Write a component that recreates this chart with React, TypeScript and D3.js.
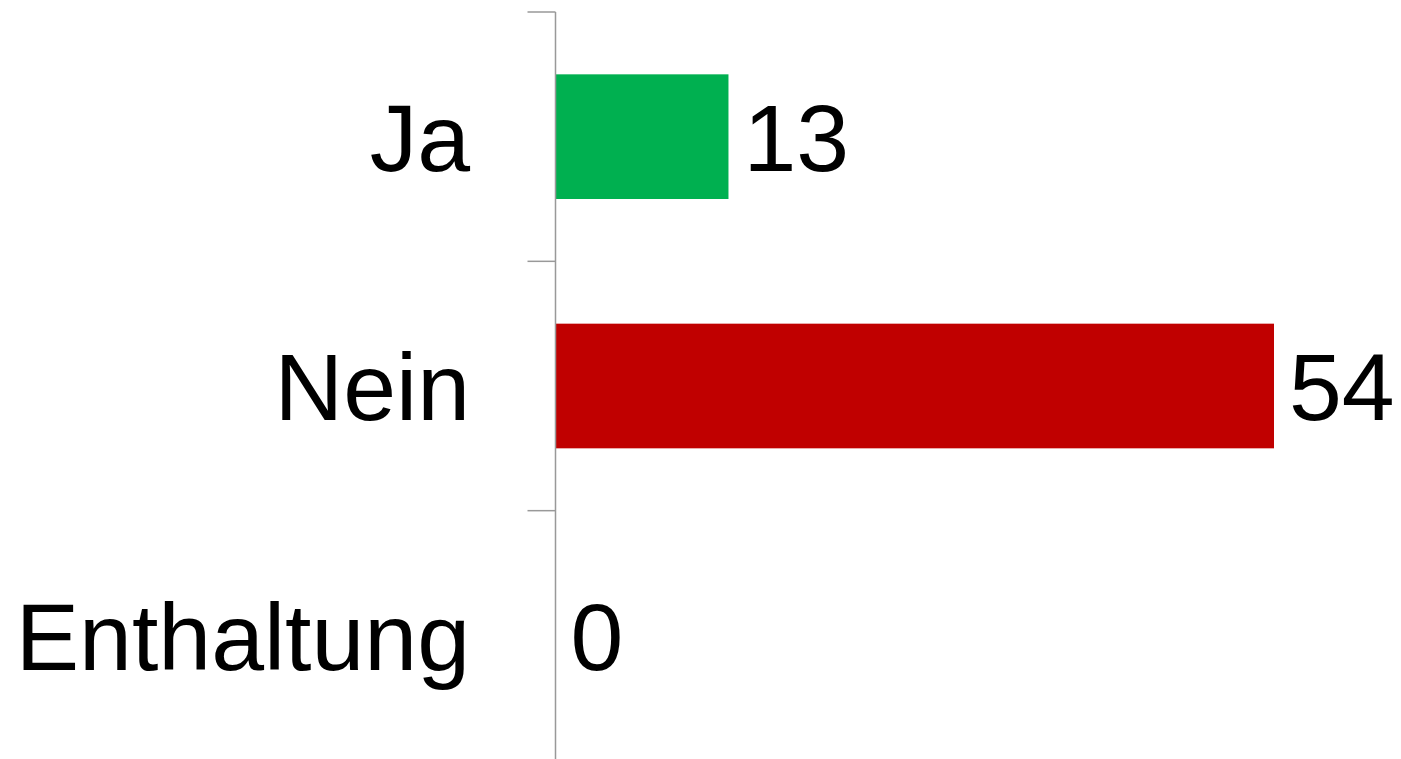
import React, { useEffect, useRef } from "react";
import * as d3 from "d3";

const categories = ["Ja", "Nein", "Enthaltung"];
const votes = [13, 54, 0];
const barColors = ["#00B050", "#C00000", "#7F7F7F"];

const width = 1401;
const height = 759;
const axisX = 555.5;
const top = 12;
const bottom = 760;

const App = () => {
  const ref = useRef<SVGSVGElement>(null);

  useEffect(() => {
    const svg = d3.select(ref.current);
    svg.selectAll("*").remove();

    const y = d3.scaleBand<string>()
      .domain(categories)
      .range([top, bottom])
      .paddingInner(0.5)
      .paddingOuter(0.25);

    const x = d3.scaleLinear().domain([0, 54]).range([axisX, 1274]);

    const rows = categories.map((c, i) => ({ name: c, value: votes[i], color: barColors[i] }));

    // bars
    svg.append("g")
      .selectAll("rect")
      .data(rows.filter(d => d.value > 0))
      .join("rect")
      .attr("x", x(0))
      .attr("y", d => y(d.name)!)
      .attr("width", d => x(d.value) - x(0))
      .attr("height", y.bandwidth())
      .attr("fill", d => d.color);

    // axis line + ticks at category boundaries
    const step = y.step();
    const bounds = d3.range(categories.length + 1).map(i => top + i * step);
    const axis = svg.append("g").attr("stroke", "#999999").attr("stroke-width", 1.5);
    axis.append("line")
      .attr("x1", axisX).attr("x2", axisX)
      .attr("y1", top).attr("y2", bottom);
    axis.selectAll("line.tick")
      .data(bounds)
      .join("line")
      .attr("class", "tick")
      .attr("x1", axisX - 28).attr("x2", axisX)
      .attr("y1", d => d).attr("y2", d => d);

    const font = "Liberation Sans, Arial, sans-serif";

    // category labels
    svg.append("g")
      .selectAll("text")
      .data(rows)
      .join("text")
      .attr("x", 470)
      .attr("y", d => y(d.name)! + y.bandwidth() / 2)
      .attr("dy", "0.36em")
      .attr("text-anchor", "end")
      .attr("font-family", font)
      .attr("font-size", 95)
      .attr("fill", "#000")
      .text(d => d.name);

    // value labels
    svg.append("g")
      .selectAll("text")
      .data(rows)
      .join("text")
      .attr("x", d => x(d.value) + 15)
      .attr("y", d => y(d.name)! + y.bandwidth() / 2)
      .attr("dy", "0.36em")
      .attr("font-family", font)
      .attr("font-size", 95)
      .attr("fill", "#000")
      .text(d => d.value);
  }, []);

  return (
    <div style={{ position: "absolute", left: 0, top: 0 }}>
      <svg ref={ref} width={width} height={height} style={{ display: "block", background: "#fff" }} />
    </div>
  );
};

export default App;
